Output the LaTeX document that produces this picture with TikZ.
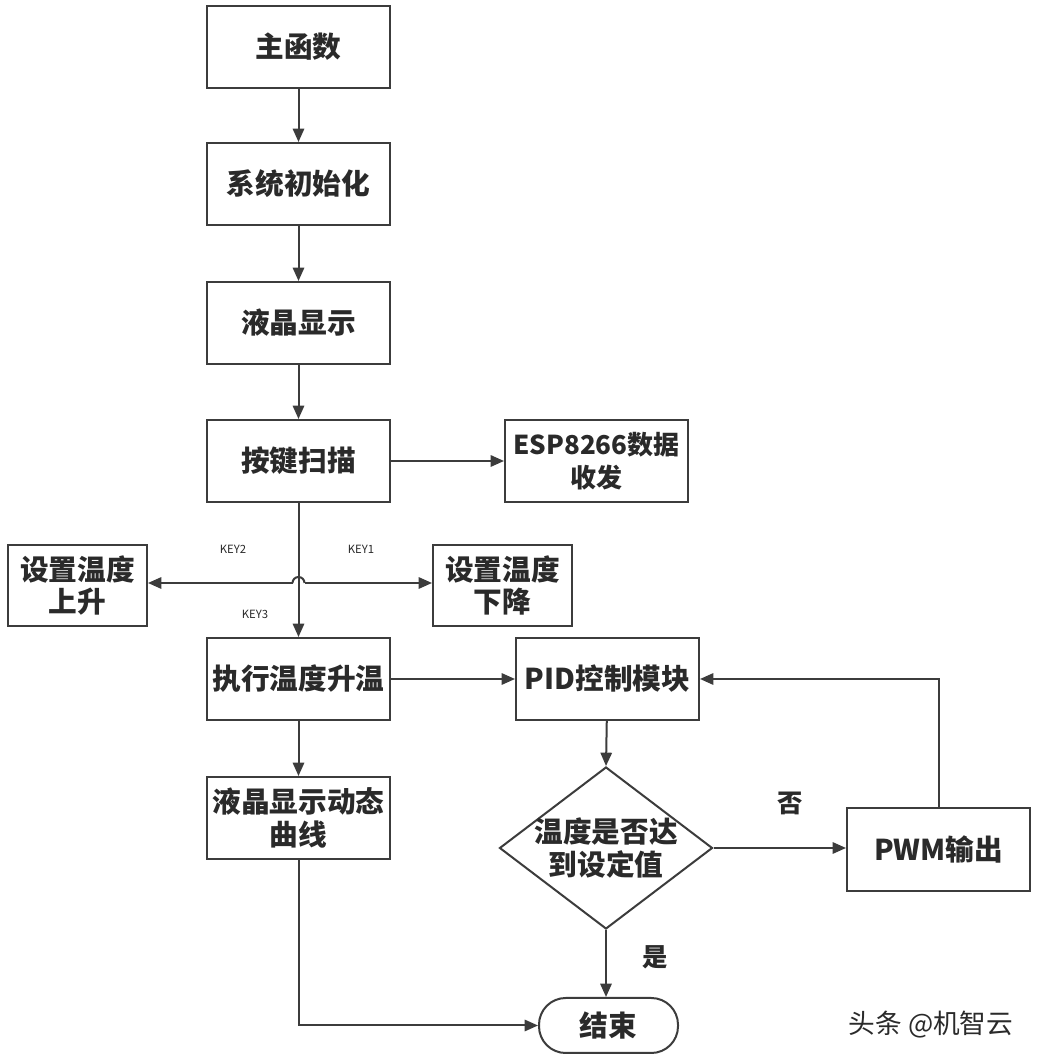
\documentclass[tikz,border=0pt]{standalone}
\usepackage{fontspec}
\setmainfont{Noto Sans CJK SC}
\usetikzlibrary{arrows.meta,shapes.geometric}
\definecolor{ln}{HTML}{3C3C3C}
\definecolor{tx}{HTML}{2A2A2A}
\tikzset{
  box/.style={draw=ln,line width=1.5pt,minimum width=137.25pt,minimum height=61.5pt,inner sep=0pt,align=center,text=tx,font=\fontsize{21.5}{24.5}\selectfont\bfseries},
  sbox/.style={box,minimum width=104.25pt,minimum height=60.75pt},
  arr/.style={draw=ln,line width=1.5pt,-{Triangle[length=10pt,width=8.5pt]}},
  ln/.style={draw=ln,line width=1.5pt},
  keylab/.style={text=tx,font=\fontsize{8.5}{10}\selectfont},
  yn/.style={text=tx,font=\fontsize{19}{22}\selectfont\bfseries}
}
\begin{document}
\begin{tikzpicture}[x=0.75pt,y=0.75pt]
\useasboundingbox[fill=white] (0,0) rectangle (1036,1060);
\node[box] (main) at (298.5,1013) {主函数};
\node[box] (init) at (298.5,876) {系统初始化};
\node[box] (lcd) at (298.5,737) {液晶显示};
\node[box] (key) at (298.5,599) {按键扫描};
\node[box,font=\fontsize{19.5}{24.5}\selectfont\bfseries] (esp) at (596.5,599) {ESP8266数据\\收发};
\node[sbox] (up) at (77.5,474.5) {设置温度\\上升};
\node[sbox] (down) at (502.5,474.5) {设置温度\\下降};
\node[box] (exec) at (298.5,381) {执行温度升温};
\node[box] (pid) at (607.5,381) {PID控制模块};
\node[box] (lcd2) at (298.5,242) {液晶显示动态\\曲线};
\node[draw=ln,line width=1.5pt,shape=diamond,minimum width=159.75pt,minimum height=121.5pt,inner sep=0pt] (dec) at (606,212) {};
\node[text=tx,font=\fontsize{21.5}{24.5}\selectfont\bfseries,align=center] (dect) at (dec.center) {温度是否达\\到设定值};
\node[box,minimum height=62.25pt] (pwm) at (938.5,210.5) {PWM输出};
\node[draw=ln,line width=1.5pt,rounded corners=20pt,minimum width=104.25pt,minimum height=41.25pt,inner sep=0pt,text=tx,font=\fontsize{21.5}{24.5}\selectfont\bfseries] (end) at (608.5,34.5) {结束};

\node[keylab] (k2) at (233,511) {KEY2};
\node[keylab] (k1) at (361,511) {KEY1};
\node[keylab] (k3) at (255,446) {KEY3};
\node[yn] (no) at (790,257) {否};
\node[yn] (yes) at (655,103) {是};
\node[text=tx,font=\fontsize{20}{24}\selectfont] (wm) at (931,35) {头条 @机智云};

\draw[arr] (main) -- (init);
\draw[arr] (init) -- (lcd);
\draw[arr] (lcd) -- (key);
\draw[arr] (key) -- (esp);
\draw[arr] (key) -- (exec);
\coordinate (h1) at (292.5,477);
\coordinate (h2) at (304.5,477);
\draw[arr] (h1) -- (up.east |- h1);
\draw[arr] (h2) -- (down.west |- h2);
\draw[ln] (h1) arc[start angle=180,end angle=0,radius=6];
\draw[arr] (exec) -- (pid);
\draw[arr] (exec) -- (lcd2);
\draw[arr] (pid) -- (dec.north);
\draw[arr] (dec.east) -- (pwm.west |- dec.east);
\draw[arr] (pwm.north) |- (pid.east);
\draw[arr] (dec.south) -- (end.north -| dec.south);
\draw[arr] (lcd2.south) |- (end.west);
\end{tikzpicture}
\end{document}
